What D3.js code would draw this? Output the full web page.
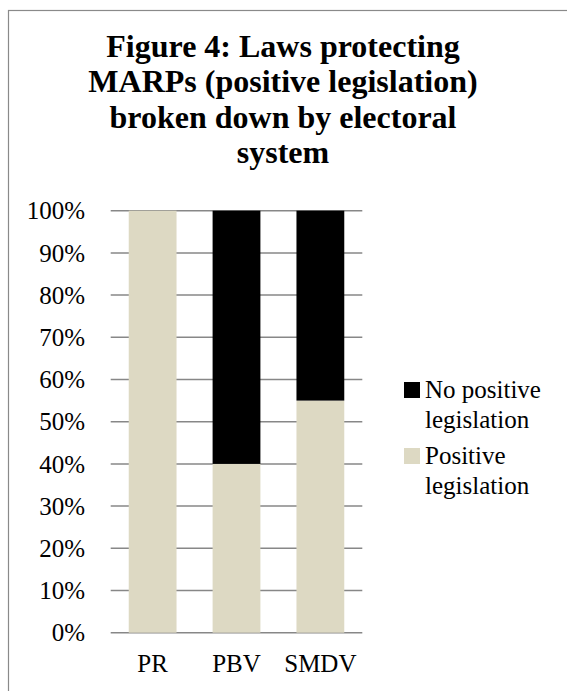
<!DOCTYPE html>
<html>
<head>
<meta charset="utf-8">
<script src="https://cdn.jsdelivr.net/npm/d3@7"></script>
<style>
  html, body { margin: 0; padding: 0; background: #fff; }
  svg { display: block; }
</style>
</head>
<body>
<svg id="chart" width="567" height="691"></svg>
<script>
// Electoral systems and share of laws with / without positive legislation
const systems = ["PR", "PBV", "SMDV"];
const positiveLegislation = [1.00, 0.40, 0.55];
const noPositiveLegislation = [0.00, 0.60, 0.45];
const seriesNames = ["Positive legislation", "No positive legislation"];
const legendOrder = ["No positive legislation", "Positive legislation"];
const yTicks = [0, 0.1, 0.2, 0.3, 0.4, 0.5, 0.6, 0.7, 0.8, 0.9, 1.0];
const titleLines = [
  "Figure 4: Laws protecting",
  "MARPs (positive legislation)",
  "broken down by electoral",
  "system"
];

const colors = {
  "Positive legislation": "#DDD9C3",
  "No positive legislation": "#000000"
};
const serif = "'Liberation Serif', 'Times New Roman', Times, serif";

const svg = d3.select("#chart");

// chart frame
svg.append("rect")
  .attr("x", 8.5).attr("y", 10.5)
  .attr("width", 620).attr("height", 700)
  .attr("fill", "#fff")
  .attr("stroke", "#8a8a8a")
  .attr("stroke-width", 1.2);

// title
const title = svg.append("text")
  .attr("font-family", serif)
  .attr("font-weight", "bold")
  .attr("font-size", 32)
  .attr("text-anchor", "middle")
  .attr("fill", "#000");
titleLines.forEach((line, i) => {
  title.append("tspan")
    .attr("x", 283)
    .attr("y", 57 + i * 35.3)
    .text(line);
});

// scales
const x = d3.scaleBand()
  .domain(systems)
  .range([110.7, 362.3])
  .paddingInner(0.43)
  .paddingOuter(0.215);

const y = d3.scaleLinear()
  .domain([0, 1])
  .range([632.7, 210.7]);

// gridlines
svg.append("g")
  .selectAll("line")
  .data(yTicks)
  .join("line")
  .attr("x1", x.range()[0])
  .attr("x2", x.range()[1])
  .attr("y1", d => y(d))
  .attr("y2", d => y(d))
  .attr("stroke", "#878787")
  .attr("stroke-width", 1.5);

// y axis labels
const yAxis = d3.axisLeft(y)
  .tickValues(yTicks)
  .tickFormat(d3.format(".0%"))
  .tickSize(0)
  .tickPadding(0);
const yg = svg.append("g")
  .attr("transform", "translate(85,0)")
  .call(yAxis);
yg.select(".domain").remove();
yg.selectAll("text")
  .attr("font-family", serif)
  .attr("font-size", 25)
  .attr("fill", "#000")
  .attr("dy", "0.33em");

// stacked bars
const rows = systems.map((s, i) => ({
  system: s,
  "Positive legislation": positiveLegislation[i],
  "No positive legislation": noPositiveLegislation[i]
}));
const stacked = d3.stack().keys(seriesNames)(rows);

svg.append("g")
  .selectAll("g")
  .data(stacked)
  .join("g")
  .attr("fill", d => colors[d.key])
  .selectAll("rect")
  .data(d => d)
  .join("rect")
  .attr("x", d => x(d.data.system))
  .attr("width", x.bandwidth())
  .attr("y", d => y(d[1]))
  .attr("height", d => y(d[0]) - y(d[1]));

// x axis labels
const xAxis = d3.axisBottom(x).tickSize(0).tickPadding(0);
const xg = svg.append("g")
  .attr("transform", "translate(0,672)")
  .call(xAxis);
xg.select(".domain").remove();
xg.selectAll("text")
  .attr("font-family", serif)
  .attr("font-size", 25)
  .attr("fill", "#000")
  .attr("dy", "0");

// legend
const legendLabels = {
  "No positive legislation": ["No positive", "legislation"],
  "Positive legislation": ["Positive", "legislation"]
};
const legend = svg.append("g");
legendOrder.forEach((key, i) => {
  const top = 382 + i * 66;
  legend.append("rect")
    .attr("x", 404).attr("y", top)
    .attr("width", 16).attr("height", 16)
    .attr("fill", colors[key]);
  const t = legend.append("text")
    .attr("font-family", serif)
    .attr("font-size", 25)
    .attr("fill", "#000");
  legendLabels[key].forEach((line, j) => {
    t.append("tspan")
      .attr("x", 425)
      .attr("y", top + 16 + j * 30)
      .text(line);
  });
});
</script>
</body>
</html>
